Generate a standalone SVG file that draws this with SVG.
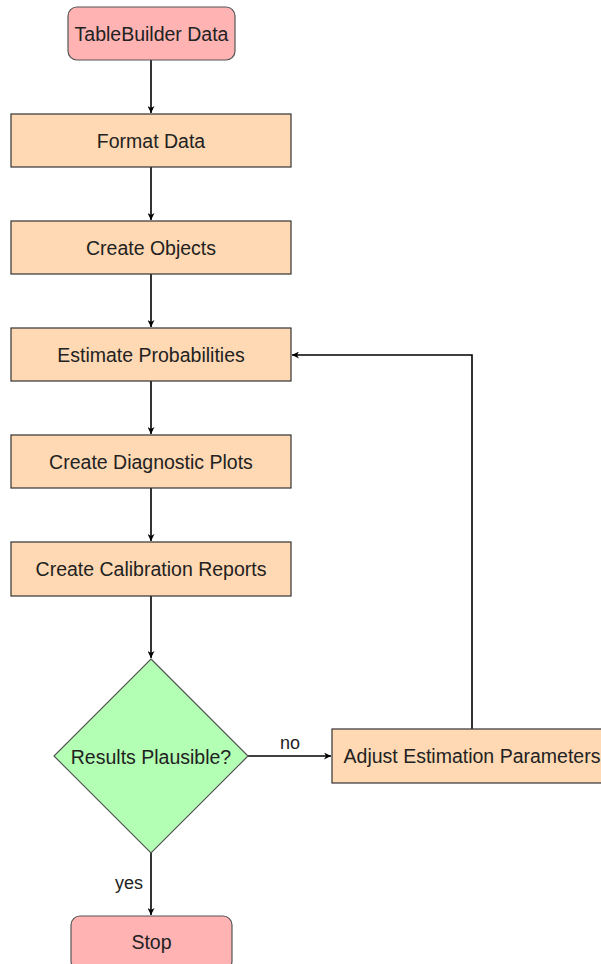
<svg xmlns="http://www.w3.org/2000/svg" width="601" height="964" viewBox="0 0 601 964">
  <style>
    text { font-family: "Liberation Sans", Arial, sans-serif; font-size: 19.5px; fill: #222; text-anchor: middle; dominant-baseline: central; }
    .terminal { fill: #ffb3b3; stroke: #555; stroke-width: 1.2; }
    .process { fill: #ffd9b3; stroke: #333; stroke-width: 1.2; }
    .decision { fill: #b3ffb3; stroke: #555; stroke-width: 1.2; }
    .edge { fill: none; stroke: #000; stroke-width: 1.6; marker-end: url(#arrow); }
    .label { font-size: 18px; }
  </style>
  <defs>
    <marker id="arrow" viewBox="0 0 10 10" refX="10" refY="5" markerWidth="7" markerHeight="7" markerUnits="userSpaceOnUse" orient="auto">
      <path d="M0,0 L10,5 L0,10 L3,5 z" fill="#000"/>
    </marker>
  </defs>

  <g id="edges">
    <path class="edge" d="M151,60 L151,113"/>
    <path class="edge" d="M151,167 L151,220"/>
    <path class="edge" d="M151,274 L151,327"/>
    <path class="edge" d="M151,381 L151,434"/>
    <path class="edge" d="M151,488 L151,541"/>
    <path class="edge" d="M151,596 L151,658"/>
    <path class="edge" d="M248,756 L331,756"/>
    <path class="edge" d="M151,853 L151,915"/>
    <path class="edge" d="M472,729 L472,355 L292,355"/>
    <text class="label" x="290" y="743">no</text>
    <text class="label" x="129" y="883">yes</text>
  </g>

  <g id="start">
    <rect class="terminal" x="68" y="7" width="167" height="53" rx="9"/>
    <text x="151.5" y="33.5">TableBuilder Data</text>
  </g>
  <g id="format-data">
    <rect class="process" x="11" y="114" width="280" height="53"/>
    <text x="151" y="140.5">Format Data</text>
  </g>
  <g id="create-objects">
    <rect class="process" x="11" y="221" width="280" height="53"/>
    <text x="151" y="247.5">Create Objects</text>
  </g>
  <g id="estimate-probabilities">
    <rect class="process" x="11" y="328" width="280" height="53"/>
    <text x="151" y="354.5">Estimate Probabilities</text>
  </g>
  <g id="diagnostic-plots">
    <rect class="process" x="11" y="435" width="280" height="53"/>
    <text x="151" y="461.5">Create Diagnostic Plots</text>
  </g>
  <g id="calibration-reports">
    <rect class="process" x="11" y="542" width="280" height="54"/>
    <text x="151" y="568.5">Create Calibration Reports</text>
  </g>
  <g id="results-plausible">
    <polygon class="decision" points="151,659 248,756 151,853 54,756"/>
    <text x="151" y="756.5">Results Plausible?</text>
  </g>
  <g id="adjust-parameters">
    <rect class="process" x="332" y="729" width="280" height="54"/>
    <text x="472" y="755.5">Adjust Estimation Parameters</text>
  </g>
  <g id="stop">
    <rect class="terminal" x="71" y="916" width="161" height="54" rx="9"/>
    <text x="151.5" y="942">Stop</text>
  </g>
</svg>
